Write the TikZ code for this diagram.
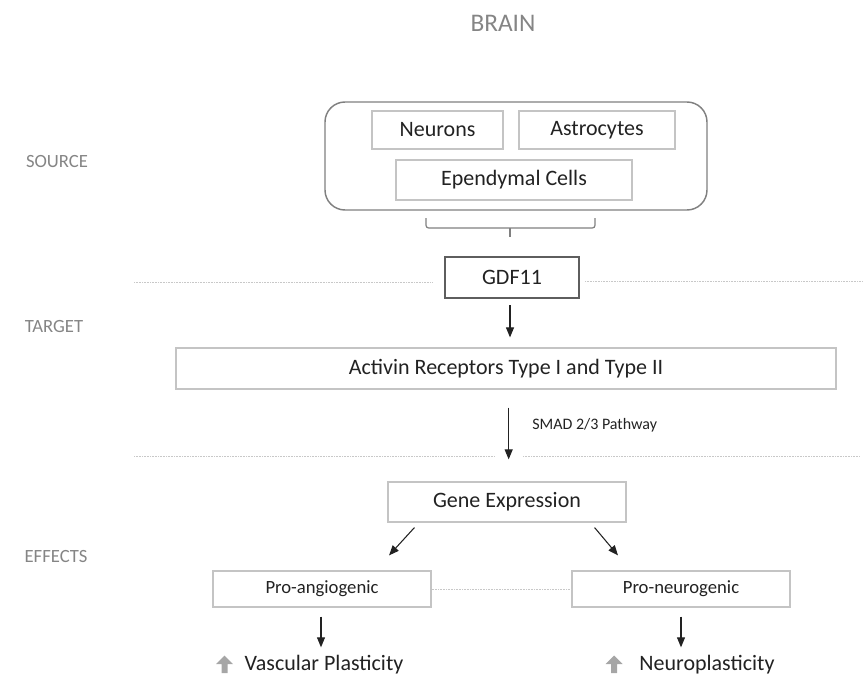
\documentclass[tikz,border=0pt]{standalone}
\usepackage{fontspec}
\setmainfont{Carlito}
\usetikzlibrary{arrows.meta,positioning,calc}

\definecolor{boxline}{HTML}{C4C4C4}
\definecolor{darkline}{HTML}{5E5E5E}
\definecolor{roundline}{HTML}{808080}
\definecolor{labelgray}{HTML}{858585}
\definecolor{txt}{HTML}{222222}
\definecolor{icongray}{HTML}{A6A6A6}
\definecolor{sepgray}{HTML}{C8C8C8}

\begin{document}
\begin{tikzpicture}[x=0.75pt,y=-0.75pt,
	cell/.style={draw=boxline,line width=0.9pt,inner sep=0pt,text=txt,
		font=\fontsize{16.5}{19}\selectfont},
	small cell/.style={cell,font=\fontsize{14}{17}\selectfont,
		minimum width=163.5pt,minimum height=27pt},
	side label/.style={text=labelgray,inner sep=0pt,font=\fontsize{14}{17}\selectfont},
	outcome/.style={text=txt,inner sep=0pt,font=\fontsize{16.5}{19}\selectfont},
	arr/.style={-{Triangle[length=7.5pt,width=6pt]},draw=txt,line width=0.8pt},
	divider/.style={draw=sepgray,line width=0.7pt,dash pattern=on 0.8pt off 0.4pt},
	uparrow/.pic={\fill[icongray] (-3,0) -- (-3,-9) -- (-8.5,-9) -- (0,-17.5)
		-- (8.5,-9) -- (3,-9) -- (3,0) -- cycle;}]
	
	\useasboundingbox (0,0) rectangle (867,681);
	
	% titles
	\node[side label,font=\fontsize{19}{22}\selectfont] (brain) at (503,23) {BRAIN};
	\node[side label] (source) at (57,162) {SOURCE};
	\node[side label] (target) at (54,327) {TARGET};
	\node[side label] (effects) at (56,557) {EFFECTS};
	
	% source cells
	\node[draw=roundline,line width=1.1pt,rounded corners=15pt,
		minimum width=286.5pt,minimum height=81pt] (src) at (516,156) {};
	\node[cell,minimum width=98.25pt,minimum height=28.5pt] (neur) at (437.5,130) {Neurons};
	\node[cell,minimum width=117pt,minimum height=28.5pt] (astro) at (597,130) {Astrocytes};
	\node[cell,minimum width=177pt,minimum height=30pt] (epen) at (514,180) {Ependymal Cells};
	
	% bracket
	\draw[draw=roundline,line width=0.9pt,rounded corners=2pt]
		(426,218) -- (426,228) -- (595,228) -- (595,218);
	\draw[draw=roundline,line width=0.9pt] (510,228) -- (510,237);
	
	\node[draw=darkline,line width=0.9pt,inner sep=0pt,text=txt,
		font=\fontsize{16.5}{19}\selectfont,
		minimum width=100.5pt,minimum height=30.75pt] (gdf) at (512,277.5) {GDF11};
	\node[cell,minimum width=495pt,minimum height=30.75pt] (act) at (506,368.5)
		{Activin Receptors Type I and Type II};
	\node[cell,minimum width=178.5pt,minimum height=30pt] (gene) at (507,502) {Gene Expression};
	\node[small cell] (angio) at (322,589) {Pro-angiogenic};
	\node[small cell] (neuro) at (681,589) {Pro-neurogenic};
	
	\node[outcome] (vasc) at (324,665) {Vascular Plasticity};
	\node[outcome] (plast) at (707,665) {Neuroplasticity};
	\pic at (224.5,673) {uparrow};
	\pic at (614,673) {uparrow};
	
	% dividers
	\draw[divider] (134,282) -- (433,282);
	\draw[divider] (585,281) -- (862,281);
	\draw[divider] (134,456) -- (495,456);
	\draw[divider] (523,456) -- (860,456);
	\draw[divider] (angio.east) -- (neuro.west);
	
	% arrows
	\draw[arr,shorten <=5pt,shorten >=7.5pt] ([xshift=-1.5pt]gdf.south) -- ([xshift=-1.5pt]gdf.south |- act.north);
	\draw[arr,shorten <=13.5pt,shorten >=16.5pt] ([xshift=2pt]act.south) -- ([xshift=2pt]act.south |- gene.north);
	\node[inner sep=0pt,text=txt,font=\fontsize{12}{14}\selectfont,anchor=west] (smad)
		at (532,425) {SMAD 2/3 Pathway};
	\draw[arr] ([shift={(27,5)}]gene.south west) -- ([shift={(67,-15)}]angio.north);
	\draw[arr] ([shift={(-32,5)}]gene.south east) -- ([shift={(-63,-15)}]neuro.north);
	\draw[arr,shorten <=6.75pt,shorten >=6pt] ([xshift=-0.75pt]angio.south) -- ([xshift=-0.75pt]angio.south |- vasc.north);
	\draw[arr,shorten <=6.75pt,shorten >=6pt] (neuro.south) -- (neuro.south |- plast.north);
\end{tikzpicture}
\end{document}
